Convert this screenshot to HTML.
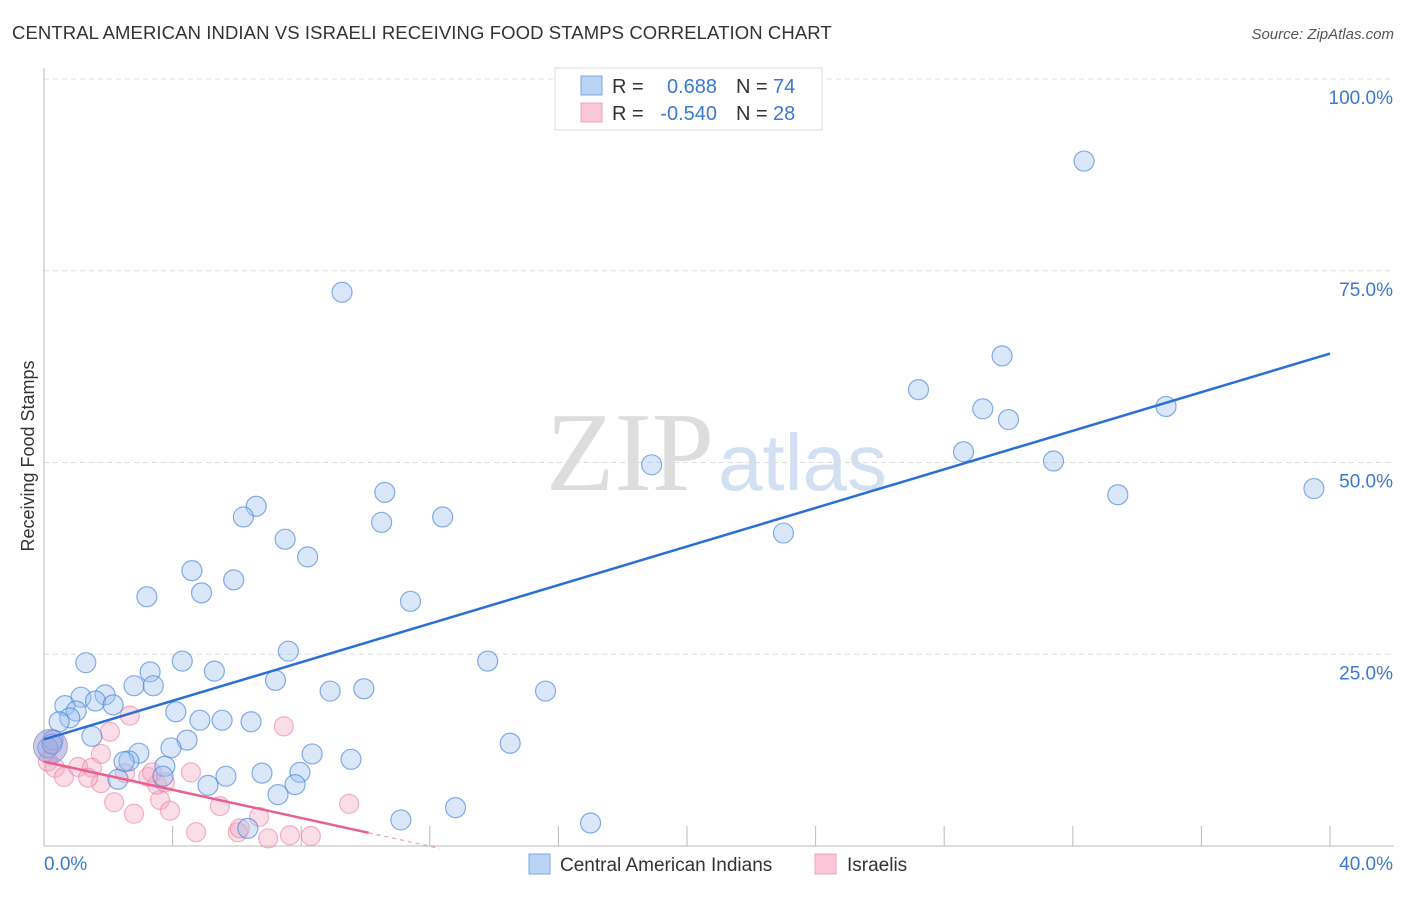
<!DOCTYPE html>
<html><head><meta charset="utf-8"><style>
body{margin:0;background:#fff;font-family:"Liberation Sans",sans-serif}
</style></head><body>
<svg id="chart" width="1406" height="892" xmlns="http://www.w3.org/2000/svg">
<text x="12" y="39" font-size="18.5" letter-spacing="0.1" fill="#333">CENTRAL AMERICAN INDIAN VS ISRAELI RECEIVING FOOD STAMPS CORRELATION CHART</text>
<text x="1394" y="39" font-size="15" fill="#555" font-style="italic" text-anchor="end">Source: ZipAtlas.com</text>
<text x="714" y="490" font-size="112" fill="#ddd" font-family="Liberation Serif,serif" text-anchor="end">ZIP</text>
<text x="718" y="490" font-size="80" fill="#d3e0f3">atlas</text>
<g id="grid"></g>
<g id="axes"></g>
<g id="pink"></g>
<g id="blue"></g>
<g id="lines"></g>
<text transform="translate(34,456) rotate(-90)" font-size="18" fill="#333" text-anchor="middle">Receiving Food Stamps</text>
<g>
<rect x="555" y="68" width="267" height="62" fill="#fff" stroke="#ddd"/>
<rect x="581" y="76" width="21" height="19" fill="#b9d3f5" stroke="#7aa6e6"/>
<rect x="581" y="103" width="21" height="19" fill="#f9c7d6" stroke="#f0a6bd"/>
<text x="612" y="93" font-size="20" fill="#333">R = </text>
<text x="717" y="93" font-size="20" fill="#3a78d6" text-anchor="end">0.688</text>
<text x="736" y="93" font-size="20" fill="#333">N = </text><text x="773" y="93" font-size="20" fill="#3a78d6">74</text>
<text x="612" y="120" font-size="20" fill="#333">R = </text>
<text x="717" y="120" font-size="20" fill="#3a78d6" text-anchor="end">-0.540</text>
<text x="736" y="120" font-size="20" fill="#333">N = </text><text x="773" y="120" font-size="20" fill="#3a78d6">28</text>
</g>
<g>
<rect x="529" y="854" width="21" height="20" fill="#b9d3f5" stroke="#7aa6e6"/>
<text x="560" y="871" font-size="19" fill="#333">Central American Indians</text>
<rect x="815" y="854" width="21" height="20" fill="#f9c7d6" stroke="#f0a6bd"/>
<text x="847" y="871" font-size="19" fill="#333">Israelis</text>
</g>
</svg>
<script>
const yTicks=[25,50,75,100];
const yTickLabels=["25.0%","50.0%","75.0%","100.0%"];
const xTicks=[4,8,12,16,20,24,28,32,36,40];
const blueX=[32.35,9.27,29.8,27.2,29.2,30.0,34.9,28.6,31.4,18.9,33.4,39.5,10.6,6.6,6.2,10.5,12.4,7.5,8.2,4.6,5.9,4.9,3.2,11.4,23.0,7.6,13.8,1.3,4.3,5.3,3.3,7.2,2.8,3.4,8.9,9.95,15.6,1.15,1.9,0.65,1.6,2.15,1.0,0.8,0.47,4.1,4.85,5.54,6.44,1.49,0.28,0.12,4.45,2.95,3.95,8.34,2.64,2.49,9.55,3.76,3.7,6.78,7.96,5.66,5.1,2.3,7.81,7.28,14.5,12.8,11.1,17.0,6.34,0.25];
const blueY=[89.3,72.2,63.9,59.5,57.0,55.6,57.3,51.4,50.2,49.7,45.8,46.6,46.1,44.3,42.9,42.2,42.9,40.0,37.7,35.9,34.7,33.0,32.5,31.9,40.8,25.4,24.1,23.9,24.1,22.8,22.7,21.6,20.9,20.9,20.2,20.5,20.2,19.4,19.7,18.3,18.9,18.4,17.6,16.7,16.2,17.5,16.4,16.4,16.2,14.3,13.8,12.8,13.8,12.1,12.8,12.0,11.1,11.0,11.3,10.4,9.1,9.5,9.6,9.1,7.9,8.7,8.0,6.7,13.4,5.0,3.4,3.0,2.3,13.3];
const pinkX=[0.12,0.34,0.62,1.06,1.49,1.77,2.05,2.67,1.77,1.37,2.18,2.8,3.24,3.61,3.51,3.76,3.92,4.57,4.73,5.47,6.03,6.69,7.46,7.65,8.3,9.49,6.97,6.09,3.36,2.52];
const pinkY=[11.0,10.2,9.0,10.3,10.2,12.0,14.9,17.0,8.2,8.9,5.7,4.2,9.0,6.0,8.0,8.3,4.6,9.6,1.8,5.2,1.8,3.8,15.6,1.4,1.3,5.5,1.0,2.3,9.6,9.5];
const blueFit=[13.9,64.2];
const pinkFit=[11.0,-0.3];
const X=v=>44+v*32.15, Y=v=>846-v*7.67;
const NS="http://www.w3.org/2000/svg";
function mk(t,a,p){const e=document.createElementNS(NS,t);for(const k in a)e.setAttribute(k,a[k]);p.appendChild(e);return e;}
const grid=document.getElementById('grid'),axes=document.getElementById('axes');
yTicks.forEach((v,i)=>{
 const l=mk('line',{x1:44,x2:1394,y1:Y(v),y2:Y(v),stroke:'#ddd','stroke-dasharray':'5,4'},grid);
 
 
 const t=mk('text',{x:1393,y:Y(v)+25,'font-size':19,fill:'#3a78d6','text-anchor':'end'},grid);
 t.textContent=yTickLabels[i];
 
 
});
const ya=mk('line',{x1:44,x2:44,y1:68,y2:846,stroke:'#bbb'},axes);


const xa=mk('line',{x1:44,x2:1394,y1:846,y2:846,stroke:'#bbb'},axes);


xTicks.forEach(v=>{
 const t=mk('line',{x1:X(v),x2:X(v),y1:826,y2:846,stroke:'#bbb'},axes);
 
 
});
const x0=mk('text',{x:44,y:870,'font-size':19,fill:'#3a78d6'},axes);x0.textContent='0.0%';


const x1=mk('text',{x:1393,y:870,'font-size':19,fill:'#3a78d6','text-anchor':'end'},axes);x1.textContent='40.0%';


const pg=document.getElementById('pink'),bg=document.getElementById('blue');
pinkX.forEach((v,i)=>{
 const c=mk('circle',{cx:X(v),cy:Y(pinkY[i]),r:9.5,fill:'rgba(246,170,195,0.4)',stroke:'rgba(235,130,165,0.6)','stroke-width':1.2},pg);
 
 
});
blueX.forEach((v,i)=>{
 const c=mk('circle',{cx:X(v),cy:Y(blueY[i]),r:10,fill:'rgba(160,195,240,0.4)',stroke:'rgba(70,130,220,0.65)','stroke-width':1.2},bg);
 
 
});
const big=mk('circle',{cx:X(0.2),cy:Y(13.0),r:17,fill:'rgba(150,150,210,0.5)',stroke:'rgba(120,120,200,0.6)'},bg);


const lg=document.getElementById('lines');
const bl=mk('line',{x1:X(0),y1:Y(blueFit[0]),x2:X(40),y2:Y(blueFit[1]),stroke:'#2a6fd6','stroke-width':2.5},lg);


const pSlope=(pinkFit[1]-pinkFit[0])/12.3;
const pl=mk('line',{x1:X(0),y1:Y(pinkFit[0]),x2:X(10.1),y2:Y(pinkFit[0]+pSlope*10.1),stroke:'#e8608d','stroke-width':2.5},lg);


const pd=mk('line',{x1:X(10.1),y1:Y(pinkFit[0]+pSlope*10.1),x2:X(12.3),y2:Y(pinkFit[1]),stroke:'#e8a0b8','stroke-width':1.2,'stroke-dasharray':'4,4'},lg);


</script>
</body></html>
